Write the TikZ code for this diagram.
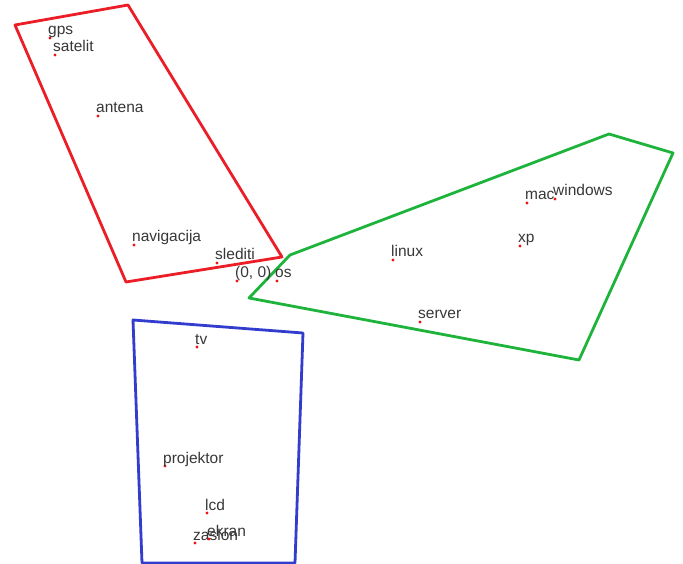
\documentclass[tikz,border=0pt]{standalone}
\usepackage{fontspec}
\setmainfont{Liberation Sans}
\begin{document}
\begin{tikzpicture}[x=1pt,y=-1pt,
  pt/.style={circle,fill=ptred,inner sep=0pt,minimum size=3.4pt},
  lbl/.style={anchor=base west,inner sep=0pt,text=txtgray,font=\fontsize{15.5}{17}\selectfont},
  region/.style={line width=2.8pt,line join=round}]
\definecolor{ptred}{RGB}{235,20,20}
\definecolor{txtgray}{RGB}{55,55,55}
\definecolor{rred}{RGB}{235,30,40}
\definecolor{rgreen}{RGB}{30,180,60}
\definecolor{rblue}{RGB}{50,60,205}
\useasboundingbox (0,0) rectangle (683,564);
% regions
\draw[region,rred] (15,25) -- (128,5) -- (282,257) -- (126,282) -- cycle;
\draw[region,rgreen] (249,298) -- (290,255) -- (609,134) -- (673,153) -- (579,360) -- cycle;
\draw[region,rblue] (133,320) -- (303,333) -- (295,563) -- (142,563) -- cycle;
% points
\foreach \n/\x/\y/\t in {gps/50/38/gps, satelit/55/55/satelit, antena/98/116/antena,
  navigacija/134/245/navigacija, slediti/217/263/slediti, origin/237/281/{(0, 0)},
  os/277/281/os, linux/393/260/linux, mac/527/203/mac, windows/555/199/windows,
  xp/520/246/xp, server/420/322/server, tv/197/347/tv, projektor/165/466/projektor,
  lcd/207/513/lcd, zaslon/195/543/zaslon, ekran/209/539/ekran}{
  \node[pt] (\n) at (\x,\y) {};
  \node[lbl] (\n-l) at (\x-2,\y-3) {\t};
}
\end{tikzpicture}
\end{document}
